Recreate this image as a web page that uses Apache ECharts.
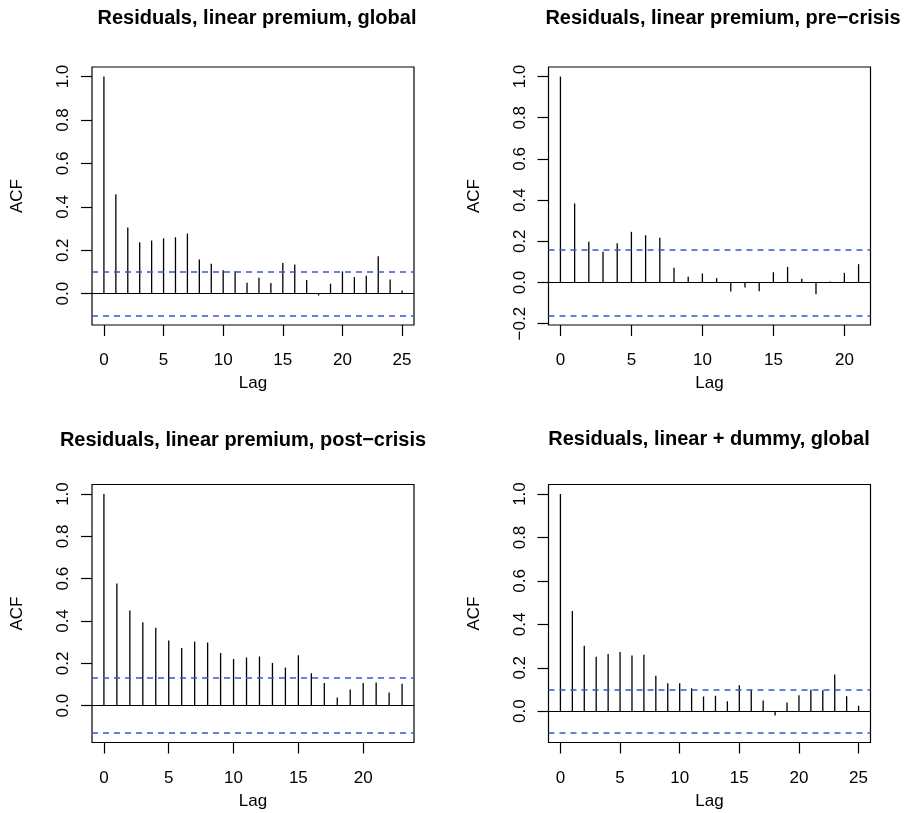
<!DOCTYPE html>
<html>
<head>
<meta charset="utf-8">
<title>ACF of residuals</title>
<script src="https://cdn.jsdelivr.net/npm/echarts@6/dist/echarts.min.js"></script>
<style>
  html, body { margin: 0; padding: 0; background: #fff; }
  #chart { width: 906px; height: 813px; }
</style>
</head>
<body>
<div id="chart"></div>
<script>
// Autocorrelation estimates, lag 0 upward, one array per model
const acfGlobal = [1.0, 0.458, 0.305, 0.237, 0.245, 0.255, 0.260, 0.277, 0.158, 0.138,
  0.108, 0.103, 0.051, 0.074, 0.049, 0.142, 0.135, 0.063, -0.008, 0.046,
  0.103, 0.077, 0.083, 0.172, 0.065, 0.015];
const acfPre = [1.0, 0.384, 0.198, 0.149, 0.190, 0.246, 0.229, 0.217, 0.071, 0.028,
  0.044, 0.021, -0.044, -0.024, -0.042, 0.050, 0.076, 0.018, -0.057, 0.005,
  0.047, 0.089];
const acfPost = [1.0, 0.577, 0.450, 0.394, 0.368, 0.308, 0.273, 0.303, 0.298, 0.249,
  0.221, 0.227, 0.232, 0.202, 0.180, 0.238, 0.153, 0.107, 0.039, 0.076,
  0.107, 0.109, 0.062, 0.104];
const acfDummy = [1.0, 0.461, 0.302, 0.251, 0.263, 0.273, 0.257, 0.260, 0.163, 0.129,
  0.129, 0.106, 0.068, 0.071, 0.046, 0.120, 0.100, 0.049, -0.020, 0.040,
  0.074, 0.099, 0.097, 0.169, 0.069, 0.025];

// 95% white-noise bounds (±1.96/sqrt(n))
const climGlobal = 0.100;
const climPre = 0.160;
const climPost = 0.129;
const climDummy = 0.100;

const titles = [
  'Residuals, linear premium, global',
  'Residuals, linear premium, pre\u2212crisis',
  'Residuals, linear premium, post\u2212crisis',
  'Residuals, linear + dummy, global'
];

// Tick positions for the axes
const lagTicksA = [0, 5, 10, 15, 20, 25];
const lagTicksB = [0, 5, 10, 15, 20];
const acfTicksA = [0.0, 0.2, 0.4, 0.6, 0.8, 1.0];
const acfTicksB = [-0.2, 0.0, 0.2, 0.4, 0.6, 0.8, 1.0];

const FONT = '"Liberation Sans", Arial, Helvetica, sans-serif';
const CI_BLUE = '#3358cc';

const W = 322, H = 258;
const panels = [
  { acf: acfGlobal, clim: climGlobal, title: titles[0], left: 92, top: 67, xt: lagTicksA, yt: acfTicksA, tx: 252, ty: 3 },
  { acf: acfPre, clim: climPre, title: titles[1], left: 548.5, top: 67, xt: lagTicksB, yt: acfTicksB, tx: 718, ty: 3 },
  { acf: acfPost, clim: climPost, title: titles[2], left: 92, top: 484.5, xt: lagTicksB, yt: acfTicksA, tx: 238, ty: 425.5 },
  { acf: acfDummy, clim: climDummy, title: titles[3], left: 548.5, top: 484.5, xt: lagTicksA, yt: acfTicksA, tx: 704, ty: 424 }
];

function fmtY(v) {
  const s = Math.abs(v).toFixed(1);
  return v < -1e-9 ? '\u2212' + s : s;
}

const option = {
  backgroundColor: '#fff',
  animation: false,
  textStyle: { fontFamily: FONT },
  title: [], grid: [], xAxis: [], yAxis: [], series: []
};

panels.forEach((p, i) => {
  const maxLag = p.acf.length - 1;
  // axis extents with 4% padding, as in a classic ACF plot
  const lo = Math.min(-p.clim, ...p.acf), hi = Math.max(p.clim, ...p.acf);
  const ypad = (hi - lo) * 0.04, xpad = maxLag * 0.04;

  option.title.push({
    text: p.title,
    left: p.tx, top: p.ty,
    textAlign: 'center',
    textStyle: { fontFamily: FONT, fontSize: 20, fontWeight: 'bold', color: '#000' }
  });
  option.grid.push({
    left: p.left, top: p.top, width: W, height: H,
    show: true, borderColor: '#000', borderWidth: 1.2, backgroundColor: 'transparent'
  });
  option.xAxis.push({
    type: 'value', gridIndex: i,
    min: -xpad, max: maxLag + xpad,
    name: 'Lag', nameLocation: 'middle', nameGap: 50,
    nameTextStyle: { fontFamily: FONT, fontSize: 17, color: '#000' },
    axisLine: { show: false, onZero: false },
    axisTick: { show: true, inside: false, length: 11, customValues: p.xt, lineStyle: { color: '#000', width: 1.2 } },
    axisLabel: { show: true, margin: 27, customValues: p.xt, fontFamily: FONT, fontSize: 17, color: '#000' },
    splitLine: { show: false }
  });
  option.yAxis.push({
    type: 'value', gridIndex: i,
    min: lo - ypad, max: hi + ypad,
    name: 'ACF', nameLocation: 'middle', nameGap: 66, nameRotate: 90,
    nameTextStyle: { fontFamily: FONT, fontSize: 17, color: '#000' },
    axisLine: { show: false, onZero: false },
    axisTick: { show: true, inside: false, length: 11, customValues: p.yt, lineStyle: { color: '#000', width: 1.2 } },
    axisLabel: { show: true, rotate: 90, margin: 20, customValues: p.yt, formatter: fmtY, fontFamily: FONT, fontSize: 17, color: '#000' },
    splitLine: { show: false }
  });
  option.series.push({
    type: 'custom', xAxisIndex: i, yAxisIndex: i,
    clip: true,
    data: p.acf.map((v, k) => [k, v]),
    renderItem: function (params, api) {
      const a = api.coord([api.value(0), 0]);
      const b = api.coord([api.value(0), api.value(1)]);
      return {
        type: 'line',
        shape: { x1: a[0], y1: a[1], x2: b[0], y2: b[1] },
        style: { stroke: '#000', lineWidth: 1.3 }
      };
    },
    markLine: {
      silent: true, symbol: 'none', label: { show: false },
      lineStyle: { color: CI_BLUE, type: [6, 5], width: 1.5 },
      emphasis: { disabled: true },
      data: [
        { yAxis: 0, lineStyle: { color: '#000', type: 'solid', width: 1.2 } },
        { yAxis: p.clim, lineStyle: { color: CI_BLUE, type: [6, 5], width: 1.5 } },
        { yAxis: -p.clim, lineStyle: { color: CI_BLUE, type: [6, 5], width: 1.5 } }
      ]
    }
  });
});

const chart = echarts.init(document.getElementById('chart'), null, { renderer: 'canvas' });
chart.setOption(option);
</script>
</body>
</html>
